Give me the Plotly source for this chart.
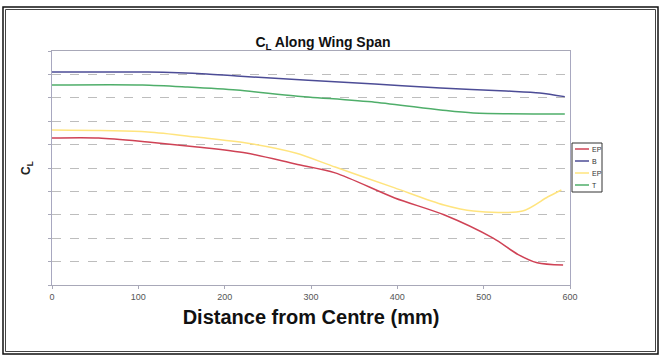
import plotly.graph_objects as go

# Distance from centre (mm) and CL values (arbitrary axis units)
red_x = [0, 54, 111, 168, 225, 282, 328, 397, 454, 511, 540, 562, 592]
red_y = [0.628, 0.628, 0.611, 0.590, 0.564, 0.517, 0.479, 0.372, 0.300, 0.200, 0.130, 0.095, 0.085]

yellow_x = [0, 111, 168, 225, 282, 328, 397, 454, 488, 545, 574, 590]
yellow_y = [0.662, 0.654, 0.632, 0.607, 0.564, 0.504, 0.415, 0.342, 0.316, 0.316, 0.376, 0.406]

blue_x = [0, 111, 179, 214, 374, 450, 526, 565, 594]
blue_y = [0.910, 0.910, 0.902, 0.893, 0.859, 0.842, 0.829, 0.821, 0.805]

green_x = [0, 105, 157, 214, 282, 374, 450, 488, 594]
green_y = [0.855, 0.855, 0.846, 0.833, 0.808, 0.781, 0.748, 0.735, 0.731]

series_names = ["EP", "B", "EP", "T"]
series_colors = ["#cf4255", "#4c4c96", "#ffe47e", "#4fae6a"]
x_ticks = [0, 100, 200, 300, 400, 500, 600]

fig = go.Figure()
for xs, ys, name, col in [
    (red_x, red_y, series_names[0], series_colors[0]),
    (blue_x, blue_y, series_names[1], series_colors[1]),
    (yellow_x, yellow_y, series_names[2], series_colors[2]),
    (green_x, green_y, series_names[3], series_colors[3]),
]:
    fig.add_trace(go.Scatter(x=xs, y=ys, mode="lines", name=name, showlegend=False,
                             line=dict(color=col, width=1.5, shape="spline", smoothing=0.8)))

L, R, T, B = 52, 570, 51, 285
W, H = 662, 358
pw, ph = R - L, B - T

def px(x):
    return (x - L) / pw

def py(y):
    return (B - y) / ph

shapes = [
    dict(type="rect", xref="paper", yref="paper", x0=px(3), x1=px(658), y0=py(354), y1=py(7),
         line=dict(color="#111", width=1.5), fillcolor="rgba(0,0,0,0)"),
    dict(type="rect", xref="paper", yref="paper", x0=px(5.5), x1=px(655.5), y0=py(351.5), y1=py(9.5),
         line=dict(color="#444", width=1), fillcolor="rgba(0,0,0,0)"),
    # legend box
    dict(type="rect", xref="paper", yref="paper", x0=px(572), x1=px(602), y0=py(192), y1=py(143),
         line=dict(color="#333", width=1), fillcolor="white"),
]
annotations = []
for i, (name, col) in enumerate(zip(series_names, series_colors)):
    yy = 149 + 12 * i
    shapes.append(dict(type="line", xref="paper", yref="paper", x0=px(575), x1=px(589),
                       y0=py(yy), y1=py(yy), line=dict(color=col, width=1.5)))
    annotations.append(dict(xref="paper", yref="paper", x=px(590), y=py(yy), text=name,
                            showarrow=False, xanchor="left", yanchor="middle",
                            font=dict(size=7, color="#333")))

fig.update_layout(
    width=W, height=H,
    margin=dict(l=L, r=W - R, t=T, b=H - B),
    paper_bgcolor="white", plot_bgcolor="white",
    font=dict(family="Liberation Sans, Arial, sans-serif", color="#222"),
    title=dict(text="<b>C<sub>L</sub> Along Wing Span</b>", x=323 / W, xanchor="center",
               y=1 - 42 / H, yanchor="middle", yref="container",
               font=dict(size=14, color="#111")),
    xaxis=dict(range=[0, 600], tickvals=x_ticks, ticktext=[str(v) for v in x_ticks],
               showgrid=False, zeroline=False, showline=True, linecolor="#a8a8b8", linewidth=1,
               mirror=True, ticks="outside", ticklen=3, tickcolor="#a8a8b8",
               tickfont=dict(size=9, color="#555"),
               title=dict(text="<b>Distance from Centre (mm)</b>", standoff=9,
                          font=dict(size=20, color="#111"))),
    yaxis=dict(range=[0, 1], dtick=0.1, showticklabels=False, showgrid=True,
               gridcolor="#bdbdbd", griddash="dash", gridwidth=1, zeroline=False,
               showline=True, linecolor="#a8a8c0", linewidth=1, mirror=True,
               ticks="outside", ticklen=3, tickcolor="#a8a8b8",
               title=dict(text="<b>C<sub>L</sub></b>", standoff=14,
                          font=dict(size=12, color="#222"))),
    shapes=shapes,
    annotations=annotations,
    showlegend=False,
)

fig.write_html("out.html", config={"displayModeBar": False},
               post_script="document.body.style.margin='0';")
